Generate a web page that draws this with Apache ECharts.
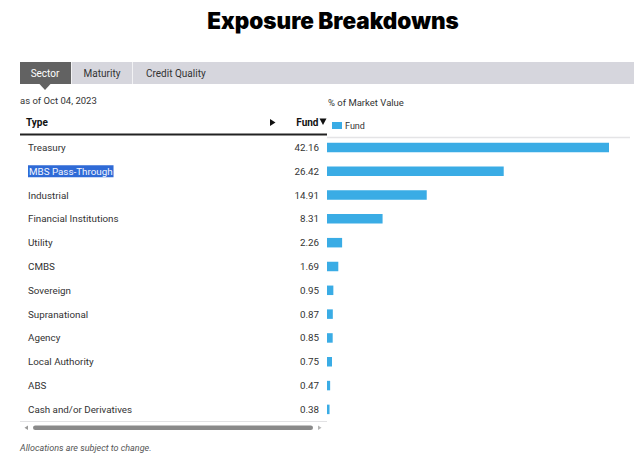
<!DOCTYPE html>
<html>
<head>
<meta charset="utf-8">
<script src="https://cdn.jsdelivr.net/npm/echarts@6/dist/echarts.min.js"></script>
<style>
html,body{margin:0;padding:0;background:#fff;}
#chart{width:640px;height:455px;}
</style>
</head>
<body>
<div id="chart"></div>
<script>
const categories = ['Treasury','MBS Pass-Through','Industrial','Financial Institutions','Utility','CMBS','Sovereign','Supranational','Agency','Local Authority','ABS','Cash and/or Derivatives'];
const fundValues = [42.16,26.42,14.91,8.31,2.26,1.69,0.95,0.87,0.85,0.75,0.47,0.38];
const tabs = ['Sector','Maturity','Credit Quality'];
const highlighted = 'MBS Pass-Through';

const FONT = 'Roboto';
const chart = echarts.init(document.getElementById('chart'), null, {renderer:'svg'});

const option = {
  animation:false,
  textStyle:{fontFamily:FONT},
  title:{
    text:'Exposure Breakdowns', left:328, top:4, textAlign:'center',
    textStyle:{fontFamily:'Inter', fontSize:22.5, fontWeight:900, color:'#000'}
  },
  legend:{
    data:['Fund'], left:332, top:121, padding:0, icon:'rect', itemWidth:10, itemHeight:7,
    textStyle:{fontFamily:FONT, fontSize:9, color:'#333', padding:[0,0,0,-2]}
  },
  grid:{left:327, top:135.5, width:301, height:285.8},
  xAxis:{type:'value', min:0, max:45, show:false},
  yAxis:[{
    type:'category', data:categories, inverse:true,
    axisLine:{show:false}, axisTick:{show:false}, splitLine:{show:false},
    axisLabel:{
      margin:299, align:'left', fontFamily:FONT, fontSize:9.8, color:'#333',
      formatter:function(v){ return v===highlighted ? '{sel|'+v+'}' : v; },
      rich:{sel:{backgroundColor:'#2f6ad6', color:'#f2f5ff', fontFamily:FONT, fontSize:9.8, padding:[1,1,1,1]}}
    }
  },{
    type:'category', data:categories, inverse:true, position:'left',
    axisLine:{show:false}, axisTick:{show:false}, splitLine:{show:false},
    axisLabel:{
      margin:8, align:'right', fontFamily:FONT, fontSize:9.8, color:'#333',
      formatter:function(v, i){ return fundValues[i].toFixed(2); }
    }
  }],
  series:[{
    name:'Fund', type:'bar', data:fundValues, barWidth:9.5,
    itemStyle:{color:'#3aace5'}
  }],
  graphic:[
    {type:'rect', shape:{x:20,y:62,width:614,height:22}, style:{fill:'#d6d6dd'}},
    {type:'rect', shape:{x:20,y:62,width:51,height:22}, style:{fill:'#626262'}},
    {type:'polygon', shape:{points:[[39.5,84],[50.5,84],[45,90]]}, style:{fill:'#626262'}},
    {type:'line', shape:{x1:71.5,y1:62,x2:71.5,y2:84}, style:{stroke:'#f2f2f4', lineWidth:1}},
    {type:'line', shape:{x1:132.5,y1:62,x2:132.5,y2:84}, style:{stroke:'#f2f2f4', lineWidth:1}},
    {type:'text', x:45, y:73.5, style:{text:tabs[0], fill:'#fff', font:'10px Roboto', textAlign:'center', textVerticalAlign:'middle'}},
    {type:'text', x:102, y:73.5, style:{text:tabs[1], fill:'#333', font:'10px Roboto', textAlign:'center', textVerticalAlign:'middle'}},
    {type:'text', x:146, y:73.5, style:{text:tabs[2], fill:'#333', font:'10px Roboto', textAlign:'left', textVerticalAlign:'middle'}},
    {type:'text', x:20, y:100, style:{text:'as of Oct 04, 2023', fill:'#333', font:'9.5px Roboto', textVerticalAlign:'middle'}},
    {type:'text', x:328, y:102.5, style:{text:'% of Market Value', fill:'#333', font:'9.5px Roboto', textVerticalAlign:'middle'}},
    {type:'text', x:26, y:122.5, style:{text:'Type', fill:'#111', font:'bold 10px Roboto', textVerticalAlign:'middle'}},
    {type:'polygon', shape:{points:[[270,119],[270,126],[275.5,122.5]]}, style:{fill:'#111'}},
    {type:'text', x:318.5, y:122.5, style:{text:'Fund', fill:'#111', font:'bold 10px Roboto', textAlign:'right', textVerticalAlign:'middle'}},
    {type:'polygon', shape:{points:[[319.5,118.5],[326.5,118.5],[323,125]]}, style:{fill:'#111'}},
    {type:'line', shape:{x1:20,y1:134.5,x2:327,y2:134.5}, style:{stroke:'#222', lineWidth:2}},
    {type:'line', shape:{x1:327,y1:137.5,x2:630,y2:137.5}, style:{stroke:'#e4e4e6', lineWidth:1.5}},
    {type:'line', shape:{x1:20,y1:421.5,x2:327,y2:421.5}, style:{stroke:'#e2e2e4', lineWidth:1}},
    {type:'rect', shape:{x:33,y:425.5,width:280,height:4.5,r:2.25}, style:{fill:'#8a8a8a'}},
    {type:'polygon', shape:{points:[[24.5,427.7],[28,425.5],[28,430]]}, style:{fill:'#9a9a9a'}},
    {type:'polygon', shape:{points:[[321.5,427.7],[318,425.5],[318,430]]}, style:{fill:'#b5b5b5'}},
    {type:'text', x:20, y:448, style:{text:'Allocations are subject to change.', fill:'#555', font:'italic 9px Roboto', textVerticalAlign:'middle'}}
  ]
};
chart.setOption(option);
</script>
</body>
</html>
